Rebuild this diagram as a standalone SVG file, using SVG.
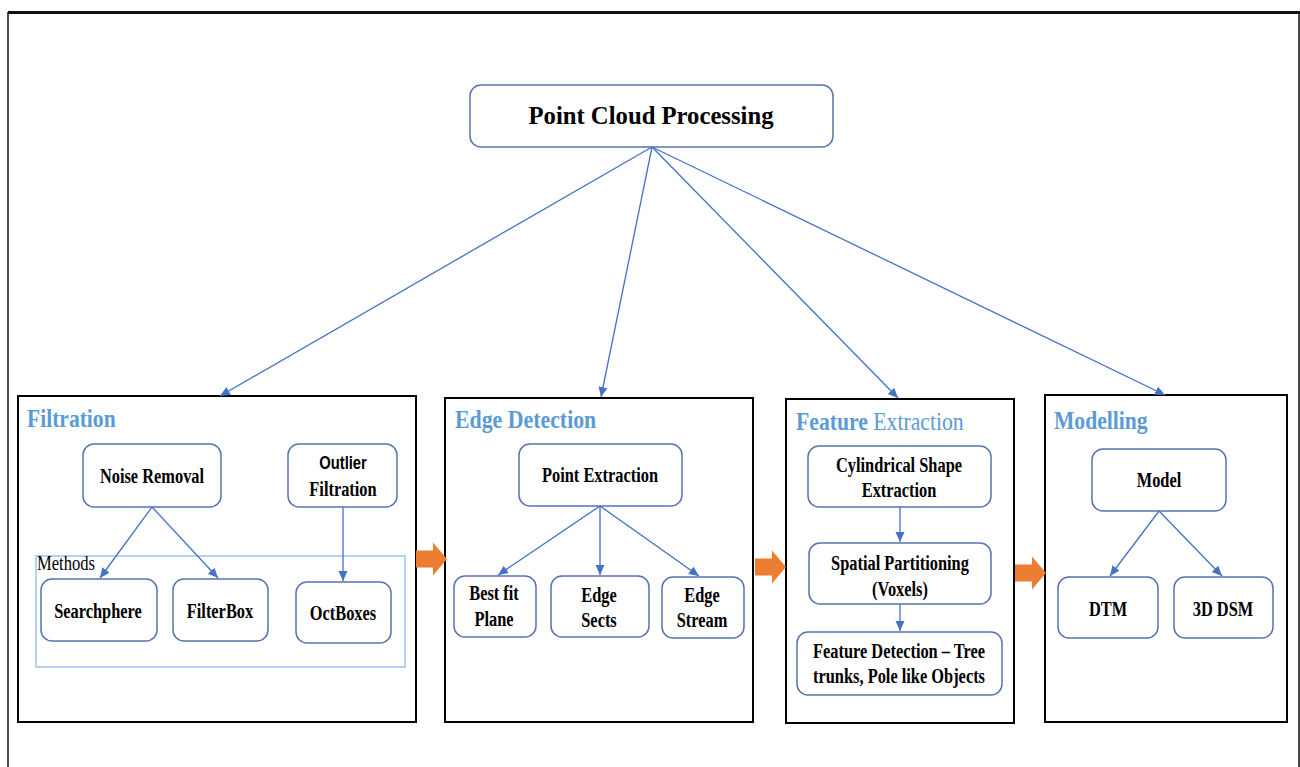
<svg xmlns="http://www.w3.org/2000/svg" width="1300" height="767" viewBox="0 0 1300 767">
  <style>
    .frame { fill: none; stroke: #111; }
    .panel { fill: #fff; stroke: #000; stroke-width: 2; }
    .node { fill: #fff; stroke: #5674b0; stroke-width: 1.5; }
    .methods { fill: none; stroke: #b4d3ee; stroke-width: 2; }
    .conn { fill: none; stroke: #4472c4; stroke-width: 1.3; marker-end: url(#ah); }
    .blk { fill: #ed7d31; }
    .lbl { font-family: "Liberation Serif", "Times New Roman", serif; font-weight: bold; font-size: 21px; fill: #000; text-anchor: middle; }
    .sans { font-family: "Liberation Sans", Arial, sans-serif; font-size: 18.5px; }
    .ttl { font-family: "Liberation Serif", "Times New Roman", serif; font-weight: bold; font-size: 26px; fill: #5b9bd5; }
    .reg { font-weight: normal; }
    .plain { font-family: "Liberation Serif", "Times New Roman", serif; font-size: 21px; fill: #000; }
  </style>
  <defs>
    <marker id="ah" markerUnits="userSpaceOnUse" markerWidth="11" markerHeight="10" refX="10" refY="4.5" orient="auto">
      <path d="M0,0 L10,4.5 L0,9 z" fill="#4472c4"/>
    </marker>
    <polygon id="blockArrow" points="0,-8.5 17,-8.5 17,-16.5 31,0 17,16.5 17,8.5 0,8.5"/>
  </defs>

  <rect width="1300" height="767" fill="#fff"/>

  <!-- outer frame (open at the bottom) -->
  <g id="frame">
    <line class="frame" x1="8" y1="12.5" x2="1300" y2="12.5" stroke-width="3"/>
    <line class="frame" x1="8" y1="12" x2="8" y2="767" stroke-width="1.5"/>
    <line class="frame" x1="1299" y1="12" x2="1299" y2="767" stroke-width="1.5"/>
  </g>

  <!-- stage panels -->
  <g id="panel-filtration">
    <rect class="panel" x="18" y="396" width="398" height="326"/>
    <text class="ttl" transform="translate(27 427) scale(0.83 1)">Filtration</text>
  </g>
  <g id="panel-edge">
    <rect class="panel" x="445" y="398" width="308" height="324"/>
    <text class="ttl" transform="translate(455 428) scale(0.84 1)">Edge Detection</text>
  </g>
  <g id="panel-feature">
    <rect class="panel" x="786" y="399" width="228" height="324"/>
    <text class="ttl" transform="translate(796 430) scale(0.835 1)">Feature<tspan class="reg"> Extraction</tspan></text>
  </g>
  <g id="panel-modelling">
    <rect class="panel" x="1045" y="395" width="242" height="327"/>
    <text class="ttl" transform="translate(1054 429) scale(0.83 1)">Modelling</text>
  </g>

  <!-- root node -->
  <g id="node-root">
    <rect class="node" x="470" y="85" width="363" height="62" rx="11"/>
    <text class="lbl" style="font-size:26px" transform="translate(651 124) scale(0.95 1)">Point Cloud Processing</text>
  </g>

  <!-- Filtration nodes -->
  <g id="methods-group">
    <rect class="methods" x="36" y="556" width="369" height="111"/>
    <text class="plain" transform="translate(37 570) scale(0.79 1)">Methods</text>
  </g>
  <g id="node-noise">
    <rect class="node" x="83" y="444" width="138" height="63" rx="11"/>
    <text class="lbl" transform="translate(152 483) scale(0.78 1)">Noise Removal</text>
  </g>
  <g id="node-outlier">
    <rect class="node" x="288" y="444" width="109" height="63" rx="11"/>
    <text class="lbl sans" transform="translate(343 469) scale(0.8 1)">Outlier</text>
    <text class="lbl" transform="translate(343 496) scale(0.78 1)">Filtration</text>
  </g>
  <g id="node-searchphere">
    <rect class="node" x="41" y="579" width="116" height="62" rx="11"/>
    <text class="lbl" transform="translate(98 618) scale(0.78 1)">Searchphere</text>
  </g>
  <g id="node-filterbox">
    <rect class="node" x="173" y="579" width="95" height="62" rx="11"/>
    <text class="lbl" transform="translate(220 618) scale(0.78 1)">FilterBox</text>
  </g>
  <g id="node-octboxes">
    <rect class="node" x="296" y="582" width="95" height="61" rx="11"/>
    <text class="lbl" transform="translate(343 620) scale(0.78 1)">OctBoxes</text>
  </g>

  <!-- Edge Detection nodes -->
  <g id="node-point-extraction">
    <rect class="node" x="519" y="444" width="163" height="62" rx="11"/>
    <text class="lbl" transform="translate(600 482) scale(0.78 1)">Point Extraction</text>
  </g>
  <g id="node-bestfit">
    <rect class="node" x="454" y="576" width="82" height="61" rx="11"/>
    <text class="lbl" transform="translate(494 600) scale(0.78 1)"><tspan x="0">Best fit</tspan><tspan x="0" dy="26">Plane</tspan></text>
  </g>
  <g id="node-edge-sects">
    <rect class="node" x="551" y="576" width="98" height="61" rx="11"/>
    <text class="lbl" transform="translate(599 602) scale(0.78 1)"><tspan x="0">Edge</tspan><tspan x="0" dy="25">Sects</tspan></text>
  </g>
  <g id="node-edge-stream">
    <rect class="node" x="662" y="577" width="82" height="61" rx="11"/>
    <text class="lbl" transform="translate(702 602) scale(0.78 1)"><tspan x="0">Edge</tspan><tspan x="0" dy="25">Stream</tspan></text>
  </g>

  <!-- Feature Extraction nodes -->
  <g id="node-cylindrical">
    <rect class="node" x="808" y="446" width="183" height="61" rx="11"/>
    <text class="lbl" transform="translate(899 472) scale(0.78 1)"><tspan x="0">Cylindrical Shape</tspan><tspan x="0" dy="25">Extraction</tspan></text>
  </g>
  <g id="node-spatial">
    <rect class="node" x="809" y="543" width="182" height="61" rx="11"/>
    <text class="lbl" transform="translate(900 570) scale(0.78 1)"><tspan x="0">Spatial Partitioning</tspan><tspan x="0" dy="26">(Voxels)</tspan></text>
  </g>
  <g id="node-feature-detection">
    <rect class="node" x="797" y="632" width="205" height="63" rx="11"/>
    <text class="lbl" transform="translate(899 658) scale(0.78 1)"><tspan x="0">Feature Detection – Tree</tspan><tspan x="0" dy="25">trunks, Pole like Objects</tspan></text>
  </g>

  <!-- Modelling nodes -->
  <g id="node-model">
    <rect class="node" x="1092" y="449" width="134" height="62" rx="11"/>
    <text class="lbl" transform="translate(1159 487) scale(0.78 1)">Model</text>
  </g>
  <g id="node-dtm">
    <rect class="node" x="1058" y="577" width="100" height="61" rx="11"/>
    <text class="lbl" transform="translate(1108 616) scale(0.78 1)">DTM</text>
  </g>
  <g id="node-dsm">
    <rect class="node" x="1174" y="577" width="99" height="61" rx="11"/>
    <text class="lbl" transform="translate(1223 616) scale(0.78 1)">3D DSM</text>
  </g>

  <!-- connectors -->
  <g id="connectors">
    <line class="conn" x1="652" y1="147" x2="220" y2="396"/>
    <line class="conn" x1="652" y1="147" x2="601" y2="397"/>
    <line class="conn" x1="652" y1="147" x2="898" y2="398"/>
    <line class="conn" x1="652" y1="147" x2="1165" y2="395"/>

    <line class="conn" x1="152" y1="507" x2="100" y2="578"/>
    <line class="conn" x1="152" y1="507" x2="218" y2="578"/>
    <line class="conn" x1="343" y1="507" x2="343" y2="581"/>

    <line class="conn" x1="600" y1="506" x2="498" y2="575"/>
    <line class="conn" x1="600" y1="506" x2="600" y2="575"/>
    <line class="conn" x1="600" y1="506" x2="699" y2="576"/>

    <line class="conn" x1="900" y1="507" x2="900" y2="542"/>
    <line class="conn" x1="900" y1="604" x2="900" y2="631"/>

    <line class="conn" x1="1159" y1="511" x2="1110" y2="576"/>
    <line class="conn" x1="1159" y1="511" x2="1222" y2="576"/>

    <!-- stage-to-stage block arrows -->
    <use href="#blockArrow" class="blk" x="416" y="559"/>
    <use href="#blockArrow" class="blk" x="755" y="567"/>
    <use href="#blockArrow" class="blk" x="1015" y="573"/>
  </g>
</svg>
